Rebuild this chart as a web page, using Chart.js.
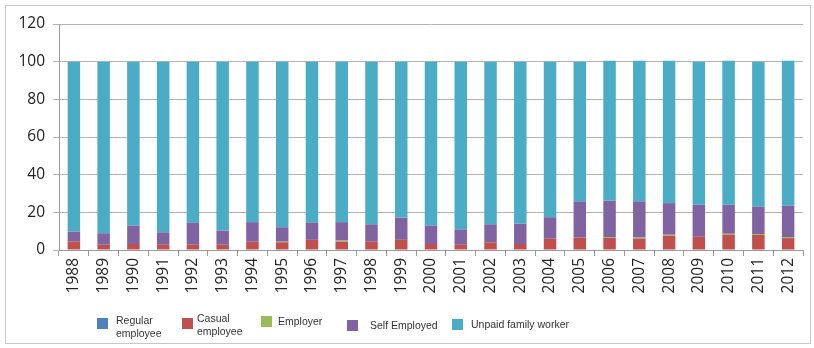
<!DOCTYPE html>
<html>
<head>
<meta charset="utf-8">
<script src="https://cdn.jsdelivr.net/npm/chart.js@4"></script>
<style>
    body { margin: 0; background: #fff; }
    #wrap { position: relative; width: 814px; height: 348px; }
    #frame { position: absolute; left: 5px; top: 5px; width: 806px; height: 339px; border: 1px solid #c8c8c8; box-sizing: border-box; pointer-events: none; }
    #employment { position: absolute; left: 0; top: 0; }
    .legend { position: absolute; top: 0; left: 0; font-family: "Liberation Sans", Arial, sans-serif; font-size: 10.5px; color: #333; line-height: 13px; }
    .item { position: absolute; }
    .box { position: absolute; width: 11px; height: 11px; }
    .label { position: absolute; white-space: nowrap; }
</style>
</head>
<body>
<div id="wrap">
    <canvas id="employment" width="814" height="348"></canvas>
    <div id="frame"></div>
    <div class="legend" id="legend"></div>
</div>
<script>
// Share of workers by employment status, per year (percent)
const years = ['1988', '1989', '1990', '1991', '1992', '1993', '1994', '1995', '1996', '1997', '1998', '1999', '2000',
    '2001', '2002', '2003', '2004', '2005', '2006', '2007', '2008', '2009', '2010', '2011', '2012'];

const regular = [0, 0, 0, 0, 0, 0, 0, 0, 0, 0, 0, 0, 0, 0, 0, 0, 0, 0, 0, 0, 0, 0, 0, 0, 0];
const casual = [4.4, 2.8, 3.2, 2.8, 2.8, 2.8, 4.4, 4.1, 5.4, 4.4, 4.4, 5.4, 3.2, 2.8, 4.1, 3.2, 6.0, 6.6, 6.4, 6.1, 7.6, 7.0, 8.1, 8.0, 6.3];
const employer = [0, 0, 0, 0, 0, 0, 0, 0.3, 0, 0.6, 0, 0, 0, 0, 0, 0, 0, 0, 0.5, 0.5, 0.5, 0, 0.5, 0.5, 0.6];
const selfEmployed = [5.4, 6.1, 9.8, 6.6, 11.7, 7.5, 10.4, 7.7, 9.1, 9.8, 9.2, 11.8, 9.8, 8.1, 9.5, 10.7, 11.4, 19.2, 19.2, 19.2, 16.8, 17.0, 15.4, 14.6, 16.6];
const unpaid = [90.2, 91.1, 87.0, 90.6, 85.5, 89.7, 85.2, 87.9, 85.5, 85.2, 86.4, 82.8, 87.0, 89.1, 86.4, 86.1, 82.6, 74.2, 74.4, 74.7, 75.6, 76.0, 76.5, 76.9, 77.0];

const yTicks = [0, 20, 40, 60, 80, 100, 120];

// Legend entries: label lines and where each one sits
const legendItems = [
    { lines: ['Regular', 'employee'], color: '#4F81BD', x: 97, y: 318, tx: 116, ty: 314 },
    { lines: ['Casual', 'employee'], color: '#C0504D', x: 182, y: 318, tx: 197, ty: 312 },
    { lines: ['Employer'], color: '#9BBB59', x: 261, y: 316, tx: 278, ty: 315 },
    { lines: ['Self Employed'], color: '#8064A2', x: 347, y: 320, tx: 370, ty: 319 },
    { lines: ['Unpaid family worker'], color: '#4BACC6', x: 452, y: 319, tx: 471, ty: 318 }
];

function makeSet(label, data, color) {
    return {
        label: label,
        data: data,
        backgroundColor: color,
        borderWidth: 0,
        barPercentage: 0.42,
        categoryPercentage: 1.0
    };
}

function buildLegend() {
    let el = document.getElementById('legend');
    legendItems.forEach(item => {
        let box = document.createElement('div');
        box.className = 'box';
        box.style.left = item.x + 'px';
        box.style.top = item.y + 'px';
        box.style.background = item.color;
        el.appendChild(box);

        let txt = document.createElement('div');
        txt.className = 'label';
        txt.style.left = item.tx + 'px';
        txt.style.top = item.ty + 'px';
        txt.innerHTML = item.lines.join('<br>');
        el.appendChild(txt);
    });
}

const tickFont = { family: '"Open Sans", "Liberation Sans", sans-serif', size: 15.5 };

let cntx = document.getElementById('employment').getContext('2d');

let chart = new Chart(cntx, {
    type: 'bar',
    data: {
        labels: years,
        datasets: [
            makeSet('Regular employee', regular, '#4F81BD'),
            makeSet('Casual employee', casual, '#C0504D'),
            makeSet('Employer', employer, '#9BBB59'),
            makeSet('Self Employed', selfEmployed, '#8064A2'),
            makeSet('Unpaid family worker', unpaid, '#4BACC6')
        ]
    },
    options: {
        responsive: false,
        animation: false,
        layout: { padding: { left: 0, right: 11, top: 24, bottom: 0 } },
        plugins: {
            legend: { display: false },
            tooltip: { enabled: false }
        },
        scales: {
            x: {
                stacked: true,
                grid: { display: true, drawOnChartArea: false, offset: true, color: '#999', tickLength: 6 },
                border: { color: '#999' },
                ticks: {
                    font: tickFont,
                    color: '#222',
                    minRotation: 90,
                    maxRotation: 90,
                    autoSkip: false,
                    padding: 2
                },
                afterFit: s => { s.height = 98; }
            },
            y: {
                stacked: true,
                min: 0,
                max: 120,
                afterBuildTicks: s => { s.ticks = yTicks.map(v => ({ value: v })); },
                grid: { color: '#b4b4b4', tickLength: 6 },
                border: { color: '#999' },
                ticks: { font: tickFont, color: '#222', padding: 8 },
                afterFit: s => { s.width = 59; }
            }
        }
    }
});

buildLegend();
</script>
</body>
</html>
